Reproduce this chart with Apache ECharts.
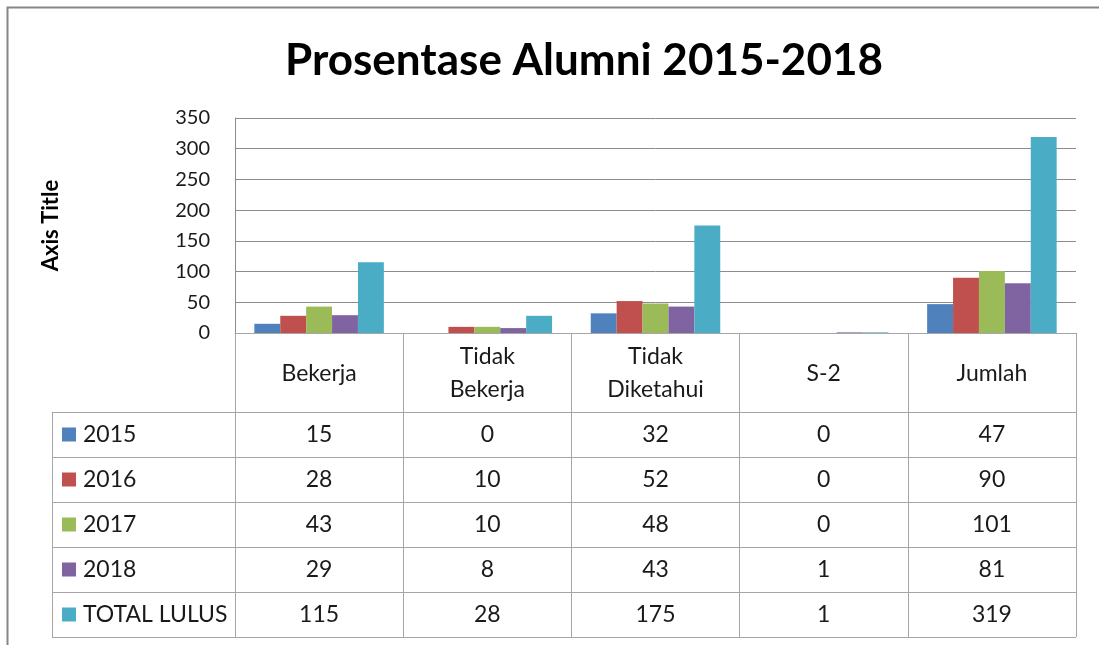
<!DOCTYPE html>
<html>
<head>
<meta charset="utf-8">
<script src="https://cdn.jsdelivr.net/npm/echarts@6/dist/echarts.min.js"></script>
<style>
  html, body { margin: 0; padding: 0; background: #fff; }
  #chart { width: 1099px; height: 645px; }
</style>
</head>
<body>
<div id="chart"></div>
<script>
// data
const categories = ['Bekerja', 'Tidak\nBekerja', 'Tidak\nDiketahui', 'S-2', 'Jumlah'];
const seriesNames = ['2015', '2016', '2017', '2018', 'TOTAL LULUS'];
const data2015 = [15, 0, 32, 0, 47];
const data2016 = [28, 10, 52, 0, 90];
const data2017 = [43, 10, 48, 0, 101];
const data2018 = [29, 8, 43, 1, 81];
const dataTotal = [115, 28, 175, 1, 319];
const yTicks = [0, 50, 100, 150, 200, 250, 300, 350];

const allData = [data2015, data2016, data2017, data2018, dataTotal];
const colors = ['#4F81BD', '#C0504D', '#9BBB59', '#8064A2', '#4BACC6'];
const font = 'Lato, "Open Sans", sans-serif';
const lineColor = '#a6a6a6';
const textColor = '#1a1a1a';

const chart = echarts.init(document.getElementById('chart'));

// table geometry (header row under the axis, then one row per series)
const axisY = 333;
const headerH = 79;
const rowH = 45;
const tableLeft = 52;
const tableRight = 1076;

// one hidden x axis per table row, it only prints the values
const rowAxes = allData.map(function (vals, i) {
    return {
        type: 'category',
        data: vals.map(String),
        position: 'bottom',
        offset: headerH + i * rowH,
        axisLine: { show: false },
        axisTick: { show: false },
        axisLabel: {
            margin: rowH / 2,
            verticalAlign: 'middle',
            fontSize: 23,
            fontFamily: font,
            color: textColor
        }
    };
});

// horizontal table lines
const hLines = [];
for (let i = 0; i <= allData.length; i++) {
    const y = axisY + headerH + i * rowH + 0.5;
    hLines.push({
        type: 'line',
        shape: { x1: tableLeft, y1: y, x2: tableRight, y2: y },
        style: { stroke: lineColor, lineWidth: 1 }
    });
}

chart.setOption({
    animation: false,
    color: colors,
    title: {
        text: 'Prosentase Alumni 2015-2018',
        left: 579,
        top: 34,
        textAlign: 'center',
        textStyle: { fontSize: 44, fontWeight: 'bold', fontFamily: font, color: '#000' }
    },
    legend: {
        orient: 'vertical',
        left: 62,
        top: axisY + headerH,
        padding: 0,
        itemGap: 0,
        itemWidth: 14,
        itemHeight: 14,
        icon: 'rect',
        data: seriesNames,
        textStyle: {
            fontSize: 23,
            fontFamily: font,
            color: textColor,
            lineHeight: rowH,
            padding: [0, 0, 0, 2]
        }
    },
    grid: { left: 235, right: 23, top: 118, bottom: 645 - axisY, containLabel: false },
    xAxis: [{
        type: 'category',
        data: categories,
        axisLine: { show: true, lineStyle: { color: lineColor } },
        axisTick: {
            show: true,
            length: headerH + rowH * allData.length,
            lineStyle: { color: lineColor }
        },
        axisLabel: {
            margin: headerH / 2 + 1,
            verticalAlign: 'middle',
            fontSize: 23,
            lineHeight: 33,
            fontFamily: font,
            color: textColor
        }
    }].concat(rowAxes),
    yAxis: {
        type: 'value',
        min: yTicks[0],
        max: yTicks[yTicks.length - 1],
        interval: 50,
        name: 'Axis Title',
        nameLocation: 'middle',
        nameRotate: 90,
        nameGap: 173,
        nameTextStyle: { fontSize: 22, fontWeight: 'bold', fontFamily: font, color: '#000' },
        axisLine: { show: true, lineStyle: { color: '#8c8c8c' } },
        axisTick: { show: false },
        axisLabel: { margin: 25, fontSize: 20, fontFamily: font, color: textColor },
        splitLine: { show: true, lineStyle: { color: '#8c8c8c' } }
    },
    series: seriesNames.map(function (name, i) {
        return {
            name: name,
            type: 'bar',
            data: allData[i],
            barGap: '0%',
            barCategoryGap: '23%'
        };
    }),
    graphic: hLines.concat([
        {
            type: 'line',
            shape: { x1: tableLeft + 0.5, y1: axisY + headerH, x2: tableLeft + 0.5, y2: axisY + headerH + rowH * allData.length },
            style: { stroke: lineColor, lineWidth: 1 }
        },
        {
            type: 'polyline',
            shape: { points: [[7.5, 645], [7.5, 7.5], [1099, 7.5]] },
            style: { stroke: '#868686', lineWidth: 2, fill: null }
        }
    ])
});
</script>
</body>
</html>
